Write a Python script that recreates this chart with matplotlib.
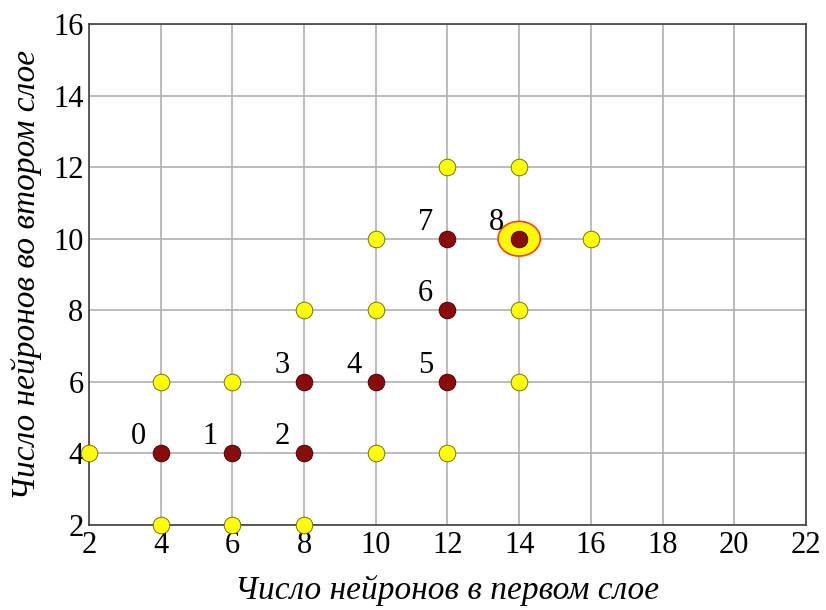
import matplotlib
matplotlib.use("Agg")
import matplotlib.pyplot as plt
from matplotlib.patches import Ellipse

yellow_x = [2, 4, 6, 8, 4, 6, 8, 10, 10, 10, 12, 12, 14, 14, 14, 16]
yellow_y = [4, 2, 2, 2, 6, 6, 8, 10, 8, 4, 4, 12, 12, 8, 6, 10]
path_x = [4, 6, 8, 8, 10, 12, 12, 12, 14]
path_y = [4, 4, 4, 6, 6, 6, 8, 10, 10]
path_labels = ["0", "1", "2", "3", "4", "5", "6", "7", "8"]
best_x, best_y = 14, 10
xticks = [2, 4, 6, 8, 10, 12, 14, 16, 18, 20, 22]
yticks = [2, 4, 6, 8, 10, 12, 14, 16]

plt.rcParams['font.family'] = ['Liberation Serif', 'DejaVu Serif']
fig = plt.figure(figsize=(8.26, 6.1), dpi=100)
ax = fig.add_axes([0.1077, 0.1393, 0.8681, 0.8214])
ax.set_xlim(2, 22)
ax.set_ylim(2, 16)
ax.set_xticks(xticks)
ax.set_yticks(yticks)
ax.grid(True, color='#b0b0b0', linewidth=1.2)
ax.set_axisbelow(True)
ax.tick_params(length=0, labelsize=22, pad=4)
for s in ax.spines.values():
    s.set_color('#404040')
    s.set_linewidth(1.2)

ax.add_patch(Ellipse((best_x, best_y), 1.18, 0.97, facecolor='#ffff00',
                     edgecolor='#ff4020', linewidth=1.2, zorder=3))
ax.plot(yellow_x, yellow_y, 'o', ms=12, mfc='#ffff00', mec='#606000',
        mew=0.6, linestyle='none', zorder=4, clip_on=False)
ax.plot(path_x, path_y, 'o', ms=12, mfc='#8b0a0a', mec='#300000',
        mew=0.6, linestyle='none', zorder=5, clip_on=False)
for x, y, t in zip(path_x, path_y, path_labels):
    ax.annotate(t, (x, y), xytext=(-16, 12), textcoords='offset points',
                fontsize=22, ha='center', va='center')

ax.set_xlabel('Число нейронов в первом слое', fontsize=24, style='italic', labelpad=11)
ax.set_ylabel('Число нейронов во втором слое', fontsize=24, style='italic', labelpad=8)
fig.savefig('out.png', dpi=100)
